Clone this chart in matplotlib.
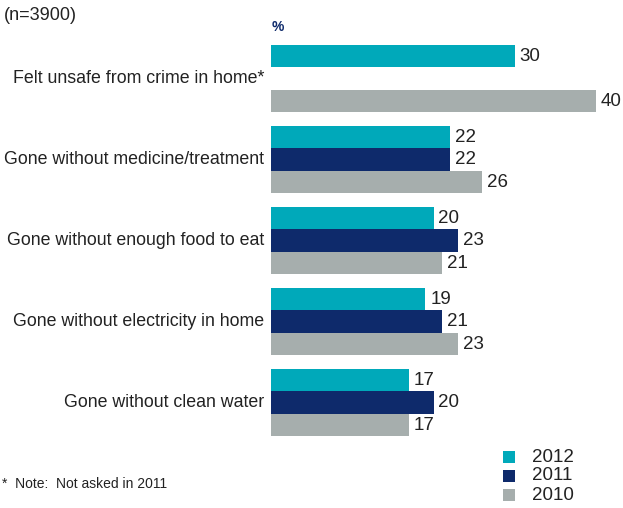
import matplotlib.pyplot as plt
from matplotlib.patches import Rectangle

plt.rcParams['font.family'] = ['Liberation Sans', 'DejaVu Sans']

categories = ['Felt unsafe from crime in home*',
              'Gone without medicine/treatment',
              'Gone without enough food to eat',
              'Gone without electricity in home',
              'Gone without clean water']
years = ['2012', '2011', '2010']
v2012 = [30, 22, 20, 19, 17]
v2011 = [None, 22, 23, 21, 20]
v2010 = [40, 26, 21, 23, 17]

colors = {'2012': '#00A9BA', '2011': '#0E2A6B', '2010': '#A6AEAD'}
series = {'2012': v2012, '2011': v2011, '2010': v2010}

W, H = 623, 508
fig = plt.figure(figsize=(W / 100, H / 100), dpi=100)

# bar axes: starts at x=271 px and spans the full height
x0 = 271
ax = fig.add_axes([x0 / W, 0, 1 - x0 / W, 1])
px_per_unit = 8.13
ax.set_xlim(0, (W - x0) / px_per_unit)
step = 81.0
first = 78.5
ax.set_ylim((H - first) / step, -first / step)
ax.axis('off')

bh = 22.5 / step
offsets = {'2012': -1, '2011': 0, '2010': 1}
for yr in years:
    for i, v in enumerate(series[yr]):
        if v is None:
            continue
        y = i + offsets[yr] * bh
        ax.barh(y, v, height=bh, color=colors[yr], linewidth=0)
        ax.text(v + 0.6, y, str(v), va='center', ha='left', fontsize=13.5, color='#222222')

for i, c in enumerate(categories):
    fig.text(264 / W, 1 - (first + step * i) / H, c, ha='right', va='center',
             fontsize=12.8, color='#222222')

fig.text(4 / W, 1 - 15 / H, '(n=3900)', ha='left', va='center', fontsize=13, color='#222222')
fig.text(272 / W, 1 - 27 / H, '%', ha='left', va='center', fontsize=10,
         fontweight='bold', color='#0E2A6B')
fig.text(2 / W, 1 - 484 / H, '*  Note:  Not asked in 2011', ha='left', va='center',
         fontsize=10, color='#222222')

# legend
for k, yr in enumerate(years):
    yc = 457 + 19 * k
    fig.patches.append(Rectangle((503 / W, 1 - (yc + 6) / H), 12 / W, 12 / H,
                                 transform=fig.transFigure, color=colors[yr], linewidth=0))
    fig.text(532 / W, 1 - yc / H, yr, ha='left', va='center', fontsize=13.5, color='#222222')

fig.savefig('out.png', dpi=100)
